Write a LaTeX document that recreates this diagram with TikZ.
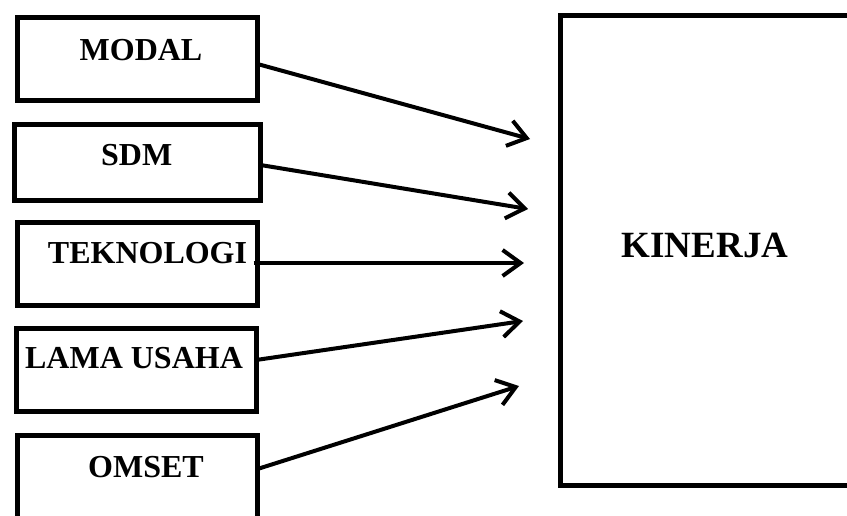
\documentclass[tikz,border=0pt]{standalone}
\usepackage{fontspec}
\setmainfont{Liberation Serif}
\usetikzlibrary{arrows.meta}
\begin{document}
\begin{tikzpicture}[x=1pt,y=-1pt,
  box/.style={draw, line width=5pt, rectangle, inner sep=0pt, outer sep=0pt},
  lbl/.style={anchor=base, inner sep=0pt, font=\bfseries\fontsize{32}{36}\selectfont},
  big/.style={anchor=base, inner sep=0pt, font=\bfseries\fontsize{37}{42}\selectfont},
  conn/.style={line width=4pt, -{Straight Barb[length=18pt,width=26pt]}}]
\useasboundingbox (0,0) rectangle (847,515);
\clip (0,0) rectangle (847,515);
\node[box, minimum width=240pt, minimum height=83pt] (bm) at (137.5,59) {};
\node[box, minimum width=246pt, minimum height=76pt] (bs) at (137.5,162.5) {};
\node[box, minimum width=240pt, minimum height=83pt] (bt) at (137.5,264) {};
\node[box, minimum width=240pt, minimum height=83pt] (bl) at (136,369.5) {};
\node[box, minimum width=240pt, minimum height=83pt] (bo) at (137.5,477) {};
\node[box, minimum width=319.5pt, minimum height=470pt] (bk) at (720.25,250.5) {};
\node[lbl] (lm) at (141,60) {MODAL};
\node[lbl] (ls) at (136.7,165) {SDM};
\node[lbl] (lt) at (147.5,263) {TEKNOLOGI};
\node[lbl] (ll) at (134,368) {LAMA USAHA};
\node[lbl] (lo) at (146,477) {OMSET};
\node[big] (lk) at (705,257) {KINERJA};
\coordinate (t1) at (530,139);
\coordinate (t2) at (528,209);
\coordinate (t3) at (524,263);
\coordinate (t4) at (523,321);
\coordinate (t5) at (519,386);
\draw[conn] ([yshift=-5pt]bm.east) -- (t1);
\draw[conn] ([yshift=-2.5pt]bs.east) -- (t2);
\draw[conn] ([yshift=1pt,xshift=-4pt]bt.east) -- (t3);
\draw[conn] ([yshift=9.5pt]bl.east) -- (t4);
\draw[conn] ([yshift=8pt]bo.east) -- (t5);
\end{tikzpicture}
\end{document}
